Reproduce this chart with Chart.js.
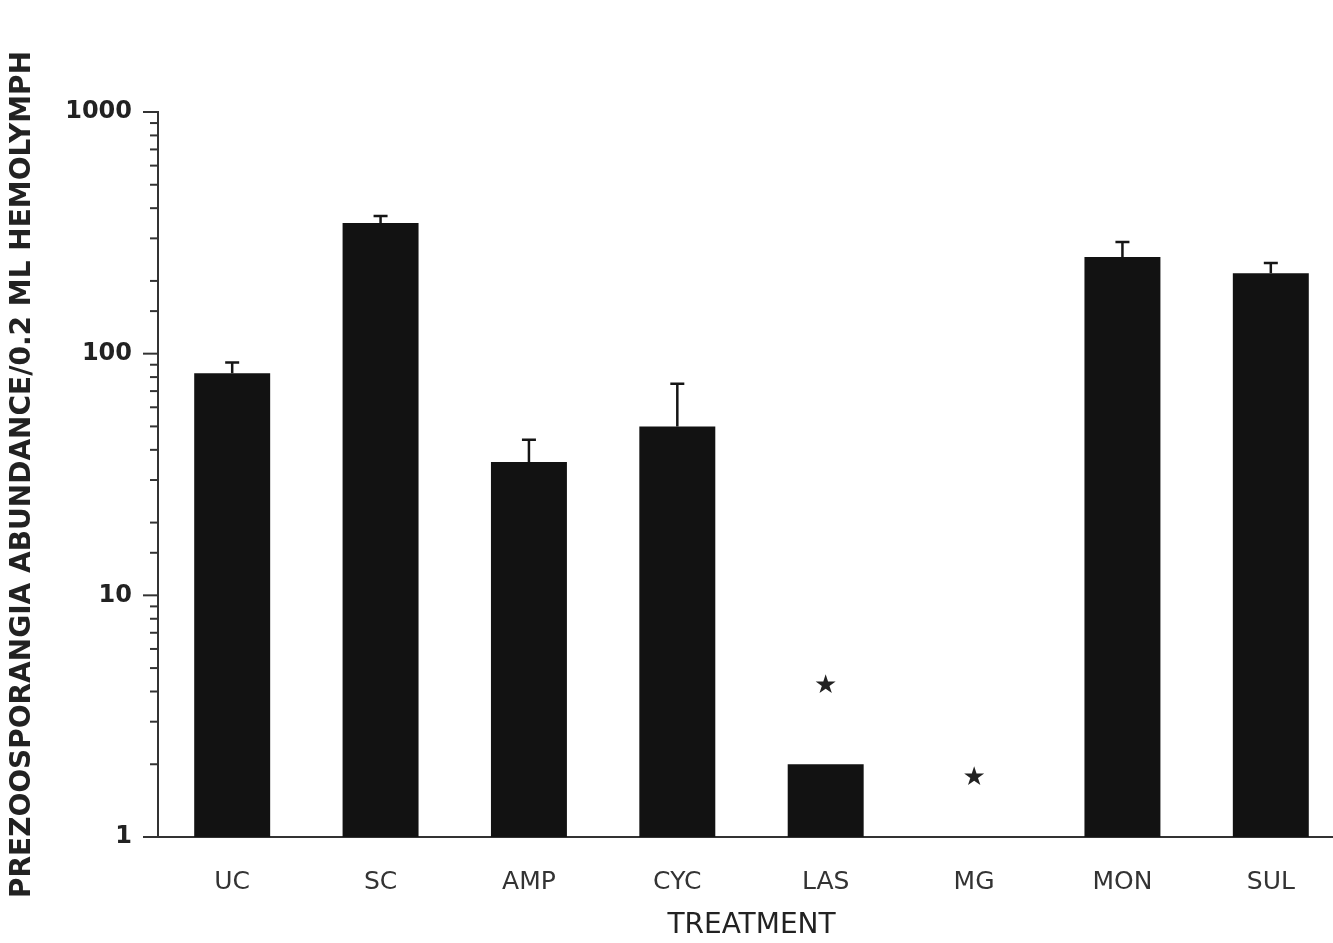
<!DOCTYPE html>
<html>
<head>
<meta charset="utf-8">
<script src="https://cdn.jsdelivr.net/npm/chart.js@4.4.1/dist/chart.umd.min.js"></script>
<style>
  html, body { margin: 0; padding: 0; background: #fff; overflow: hidden; }
  #wrap { width: 1345px; height: 943px; }
</style>
</head>
<body>
<div id="wrap"><canvas id="tabla"></canvas></div>
<script>
// datos
const treatments = ['UC', 'SC', 'AMP', 'CYC', 'LAS', 'MG', 'MON', 'SUL'];
const abundance = [83, 347, 35.6, 50, 2, null, 251, 215];
const errorTop = [92, 371, 44, 75, null, null, 290, 237];
const asterisk = [null, null, null, null, 4.2, 1.75, null, null];
const yTickLabels = [1, 10, 100, 1000];

// barras de error + asteriscos
const extras = {
  id: 'extras',
  afterDatasetsDraw(chart) {
    const ctx = chart.ctx;
    const x = chart.scales.x, y = chart.scales.y;
    ctx.save();
    ctx.strokeStyle = '#151515';
    ctx.lineWidth = 2.5;
    for (let i = 0; i < treatments.length; i++) {
      const cx = x.getPixelForValue(i);
      if (errorTop[i] != null && abundance[i] != null) {
        const y0 = y.getPixelForValue(abundance[i]);
        const y1 = y.getPixelForValue(errorTop[i]);
        ctx.beginPath();
        ctx.moveTo(cx, y0);
        ctx.lineTo(cx, y1);
        ctx.moveTo(cx - 7, y1);
        ctx.lineTo(cx + 7, y1);
        ctx.stroke();
      }
      if (asterisk[i] != null) {
        ctx.fillStyle = '#222';
        ctx.font = '26px "DejaVu Sans"';
        ctx.textAlign = 'center';
        ctx.textBaseline = 'middle';
        ctx.fillText('\u2605', cx, y.getPixelForValue(asterisk[i]));
      }
    }
    // marcas del eje y (mayores largas, menores cortas)
    const left = y.right;
    ctx.strokeStyle = '#333';
    ctx.lineWidth = 2;
    y.ticks.forEach(t => {
      const py = y.getPixelForValue(t.value);
      const major = yTickLabels.includes(t.value);
      ctx.beginPath();
      ctx.moveTo(left - (major ? 15 : 8), py);
      ctx.lineTo(left, py);
      ctx.stroke();
    });
    ctx.restore();
  }
};

const data = {
  labels: treatments,
  datasets: [{
    label: 'Abundance',
    data: abundance,
    backgroundColor: '#121212',
    borderWidth: 0,
    barPercentage: 0.512,
    categoryPercentage: 1
  }]
};

const config = {
  type: 'bar',
  data: data,
  options: {
    responsive: true,
    maintainAspectRatio: false,
    animation: false,
    layout: { padding: { top: 112, left: 6, right: 0, bottom: 0 } },
    plugins: { legend: { display: false }, tooltip: { enabled: false } },
    scales: {
      x: {
        grid: { display: false, drawTicks: false },
        border: { display: true, color: '#333', width: 2 },
        ticks: { color: '#333', padding: 30, font: { family: 'DejaVu Sans', size: 25 } },
        title: {
          display: true, text: 'TREATMENT', color: '#222',
          font: { family: 'DejaVu Sans', size: 28 }, padding: 0
        },
        afterFit: s => { s.height = 106; }
      },
      y: {
        type: 'logarithmic',
        min: 1,
        max: 1000,
        grid: { drawOnChartArea: false, drawTicks: true, tickLength: 15, tickColor: 'rgba(0,0,0,0)' },
        border: { display: true, color: '#333', width: 2 },
        ticks: {
          autoSkip: false,
          color: '#222',
          padding: 11,
          font: { family: 'DejaVu Sans', size: 24, weight: 'bold' },
          callback: v => yTickLabels.includes(v) ? String(v) : ''
        },
        title: {
          display: true, text: 'PREZOOSPORANGIA ABUNDANCE/0.2 ML HEMOLYMPH', color: '#222',
          font: { family: 'DejaVu Sans', size: 28, weight: 'bold' }, padding: 0
        },
        afterFit: s => { s.width = 152; }
      }
    }
  },
  plugins: [extras]
};

const myChart = new Chart(document.getElementById('tabla').getContext('2d'), config);
</script>
</body>
</html>
